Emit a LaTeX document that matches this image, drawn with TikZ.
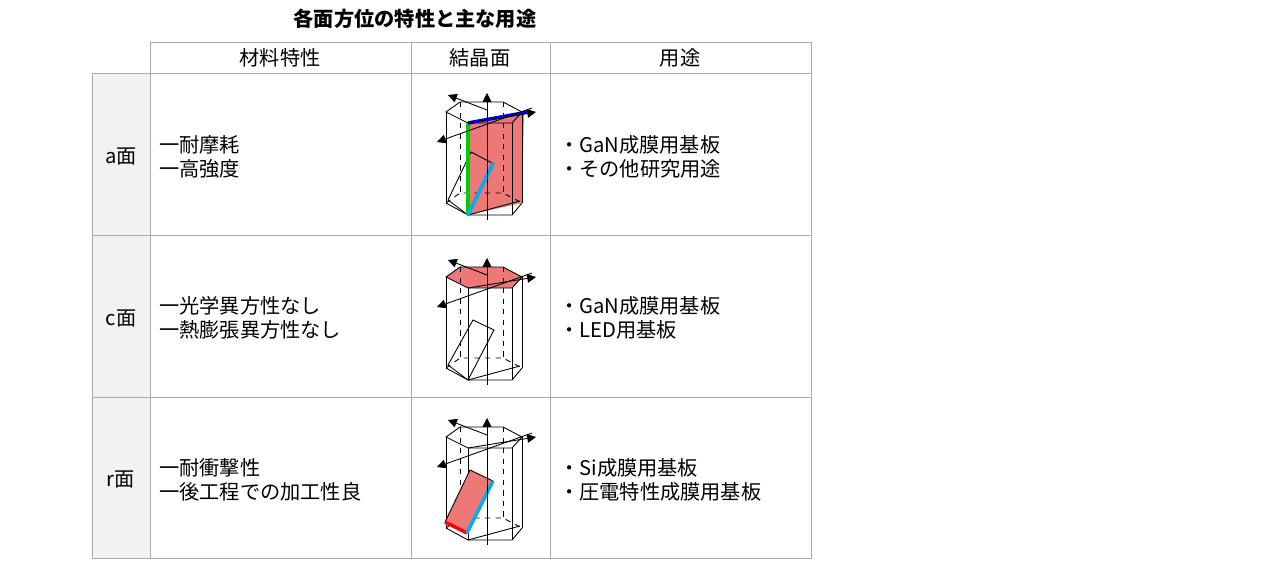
\documentclass[tikz,border=0pt]{standalone}
\usepackage{fontspec}
\setmainfont{Noto Sans CJK JP}
\usetikzlibrary{arrows.meta}
\definecolor{gridc}{RGB}{170,170,170}
\definecolor{lab}{RGB}{242,242,242}
\definecolor{facec}{RGB}{236,120,120}
\tikzset{cell/.style={draw=gridc,line width=0.5pt},
  txt/.style={font=\fontsize{11.5}{14}\selectfont,align=left,anchor=west},
  hdr/.style={font=\fontsize{11.5}{14}\selectfont},
  ax/.style={line width=0.5pt,-{Triangle[length=5pt,width=5pt]}},
  edge/.style={line width=0.5pt},
  hid/.style={line width=0.5pt,dashed}}
\newcommand{\prismbase}{%
  \draw[hid] (26,123)--(40,113)--(83,113)--(102,123);
  \draw[hid] (40,22)--(40,113); \draw[hid] (83,22)--(83,113);
  \draw[edge] (26,32)--(40,22)--(83,22)--(102,32)--(92,43)--(48,43)--cycle;
  \draw[edge] (26,123)--(48,135)--(92,135)--(102,123);
  \draw[edge] (26,32)--(26,123) (48,43)--(48,135) (92,43)--(92,135) (102,32)--(102,123);
  \draw[edge] (48,135)--(100,121);
}
\newcommand{\axes}{%
  \draw[ax] (67,140)--(67,13);
  \draw[ax] (67,30)--(28,15);
  \draw[ax] (112,28)--(17,62);
  \draw[ax] (48,43)--(116,32);
}
\begin{document}
\begin{tikzpicture}[x=0.02cm,y=-0.02cm]
\useasboundingbox (0,0) rectangle (1273,564);
\node[font=\fontsize{11.5}{14}\selectfont\bfseries] (title) at (415,19) {各面方位の特性と主な用途};
% table
\fill[lab] (92,73) rectangle (150,558);
\draw[cell] (150,42) rectangle (811,73);
\draw[cell] (92,73) rectangle (811,558);
\foreach \y in {235,397} \draw[cell] (92,\y)--(811,\y);
\foreach \x in {150,411,550} \draw[cell] (\x,42)--(\x,558);
\node[hdr] (h1) at (280,58) {材料特性};
\node[hdr] (h2) at (480,58) {結晶面};
\node[hdr] (h3) at (680,58) {用途};
\node[hdr] (ra) at (121,156) {a面};
\node[hdr] (rc) at (121,318) {c面};
\node[hdr] (rr) at (121,479) {r面};
\node[txt] (pa) at (153,157) {一耐摩耗\\一高強度};
\node[txt] (pc) at (153,318) {一光学異方性なし\\一熱膨張異方性なし};
\node[txt] (pr) at (153,480) {一耐衝撃性\\一後工程での加工性良};
\node[txt] (ua) at (553,157) {・GaN成膜用基板\\・その他研究用途};
\node[txt] (uc) at (553,318) {・GaN成膜用基板\\・LED用基板};
\node[txt] (ur) at (553,480) {・Si成膜用基板\\・圧電特性成膜用基板};
% a-plane
\begin{scope}[shift={(420,80)}]
  \fill[facec] (48,43)--(104,32)--(102,123)--(48,135)--cycle;
  \prismbase
  \draw[edge] (51,72)--(74,84)--(48,135)--(28,120)--cycle;
  \draw[line width=2pt,green!80!black] (48,43)--(48,135);
  \draw[line width=2pt,cyan] (48,135)--(73,83);
  \draw[line width=2pt,blue] (48,43)--(108,32);
  \axes
\end{scope}
% c-plane
\begin{scope}[shift={(420,245)}]
  \fill[facec] (26,32)--(40,22)--(83,22)--(102,32)--(92,43)--(48,43)--cycle;
  \prismbase
  \draw[edge] (53,75)--(74,85)--(48,135)--(28,120)--cycle;
  \axes
\end{scope}
% r-plane
\begin{scope}[shift={(420,405)}]
  \prismbase
  \fill[facec] (50,65)--(73,76)--(47,128)--(25,117)--cycle;
  \draw[edge] (50,65)--(73,76)--(47,128)--(25,117)--cycle;
  \draw[line width=2pt,red] (25,117)--(47,128);
  \draw[line width=2pt,cyan] (47,128)--(73,76);
  \axes
\end{scope}
\end{tikzpicture}
\end{document}
